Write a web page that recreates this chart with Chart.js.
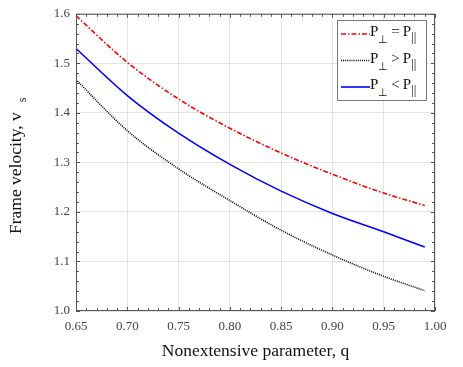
<!DOCTYPE html>
<html><head><meta charset="utf-8">
<script src="https://cdn.jsdelivr.net/npm/chart.js@4/dist/chart.umd.min.js"></script>
<style>html,body{margin:0;padding:0;background:#fff}#wrap{width:463px;height:367px}</style>
</head><body><div id="wrap"><canvas id="c" width="463" height="367"></canvas></div>
<script>
const qValues = [0.65, 0.70, 0.75, 0.80, 0.85, 0.90, 0.95, 0.99];
const equalP = [1.596, 1.502, 1.428, 1.369, 1.319, 1.276, 1.238, 1.213];
const greaterP = [1.467, 1.364, 1.287, 1.223, 1.163, 1.113, 1.070, 1.041];
const lessP = [1.530, 1.435, 1.359, 1.296, 1.242, 1.197, 1.160, 1.129];
const legendOps = ['=', '>', '<'];
const xTitle = 'Nonextensive parameter, q';
const yTitle = 'Frame velocity, v';
const yTitleSub = 's';

const serif = '"Liberation Serif", "Times New Roman", serif';
const pts = arr => qValues.map((q, i) => ({x: q, y: arr[i]}));

const datasets = [
  {data: pts(equalP), borderColor: '#ff0000', borderWidth: 1.6, borderDash: [5, 2, 1.5, 2]},
  {data: pts(greaterP), borderColor: '#000000', borderWidth: 1.6, borderDash: [1, 1.1]},
  {data: pts(lessP), borderColor: '#0000ff', borderWidth: 1.6, borderDash: []}
];

const decor = {
  id: 'decor',
  afterDraw(chart) {
    const ctx = chart.ctx, a = chart.chartArea;
    const xs = chart.scales.x, ys = chart.scales.y;
    ctx.save();
    // frame
    ctx.strokeStyle = '#555';
    ctx.lineWidth = 1;
    ctx.strokeRect(a.left + 0.5, a.top + 0.5, a.right - a.left - 1, a.bottom - a.top - 1);
    // ticks
    ctx.beginPath();
    for (let i = 0; i <= 35; i++) {
      const v = 0.65 + i * 0.01;
      const x = Math.round(xs.getPixelForValue(v)) + 0.5;
      const len = (i % 5 === 0) ? 4 : 3;
      ctx.moveTo(x, a.bottom); ctx.lineTo(x, a.bottom - len);
      ctx.moveTo(x, a.top); ctx.lineTo(x, a.top + len);
    }
    for (let i = 0; i <= 30; i++) {
      const v = 1.0 + i * 0.02;
      const y = Math.round(ys.getPixelForValue(v)) + 0.5;
      const len = (i % 5 === 0) ? 4 : 3;
      ctx.moveTo(a.left, y); ctx.lineTo(a.left + len, y);
      ctx.moveTo(a.right, y); ctx.lineTo(a.right - len, y);
    }
    ctx.stroke();

    // axis titles
    ctx.fillStyle = '#111';
    ctx.font = '17.5px ' + serif;
    ctx.textAlign = 'center';
    ctx.textBaseline = 'alphabetic';
    ctx.fillText(xTitle, (a.left + a.right) / 2, 356);
    ctx.save();
    ctx.translate(21, 234);
    ctx.rotate(-Math.PI / 2);
    ctx.textAlign = 'left';
    ctx.font = '17.5px ' + serif;
    const w1 = ctx.measureText(yTitle).width;
    ctx.fillText(yTitle, 0, 0);
    ctx.font = '12px ' + serif;
    ctx.fillText(yTitleSub, w1 + 10, 5);
    ctx.restore();

    // legend
    const bx = 337.5, by = 20.5, bw = 89, bh = 80;
    ctx.fillStyle = '#fff';
    ctx.fillRect(bx, by, bw, bh);
    ctx.strokeStyle = '#777';
    ctx.lineWidth = 1;
    ctx.strokeRect(bx, by, bw, bh);
    const rows = [34, 60.5, 87];
    chart.data.datasets.forEach((ds, i) => {
      const y = rows[i];
      ctx.beginPath();
      ctx.strokeStyle = ds.borderColor;
      ctx.lineWidth = ds.borderWidth;
      ctx.setLineDash(ds.borderDash);
      ctx.moveTo(341, y); ctx.lineTo(370, y);
      ctx.stroke();
      ctx.setLineDash([]);
      ctx.fillStyle = '#111';
      ctx.textAlign = 'left';
      ctx.textBaseline = 'alphabetic';
      const base = y + 2;
      let x = 370;
      ctx.font = '15px ' + serif;
      ctx.fillText('P', x, base); x += ctx.measureText('P').width;
      ctx.font = '11px ' + serif;
      ctx.fillText('\u22A5', x, base + 7); x += ctx.measureText('\u22A5').width + 3;
      ctx.font = '15px ' + serif;
      ctx.fillText(legendOps[i], x, base); x += ctx.measureText(legendOps[i]).width + 3;
      ctx.fillText('P', x, base); x += ctx.measureText('P').width;
      ctx.font = '13px ' + serif;
      ctx.fillText('||', x, base + 5);
    });
    ctx.restore();
  }
};

new Chart(document.getElementById('c'), {
  type: 'line',
  data: {datasets},
  options: {
    responsive: false,
    animation: false,
    devicePixelRatio: 1,
    layout: {padding: {top: 13, right: 28, left: 0, bottom: 0}},
    elements: {point: {radius: 0}, line: {cubicInterpolationMode: 'monotone', fill: false}},
    plugins: {legend: {display: false}, tooltip: {enabled: false}},
    scales: {
      x: {
        type: 'linear', min: 0.65, max: 1.0,
        afterFit: s => { s.height = 56; },
        afterBuildTicks: s => { s.ticks = [0.65,0.70,0.75,0.80,0.85,0.90,0.95,1.00].map(v => ({value: v})); },
        ticks: {color: '#444', font: {family: serif, size: 13}, padding: 8, maxRotation: 0,
          callback: v => v.toFixed(2)},
        grid: {color: '#e4e4e4', drawTicks: false},
        border: {display: false}
      },
      y: {
        min: 1.0, max: 1.6,
        afterFit: s => { s.width = 76; },
        afterBuildTicks: s => { s.ticks = [1.0,1.1,1.2,1.3,1.4,1.5,1.6].map(v => ({value: v})); },
        ticks: {color: '#444', font: {family: serif, size: 13}, padding: 6,
          callback: v => v.toFixed(1)},
        grid: {color: '#e4e4e4', drawTicks: false},
        border: {display: false}
      }
    }
  },
  plugins: [decor]
});
</script></body></html>
